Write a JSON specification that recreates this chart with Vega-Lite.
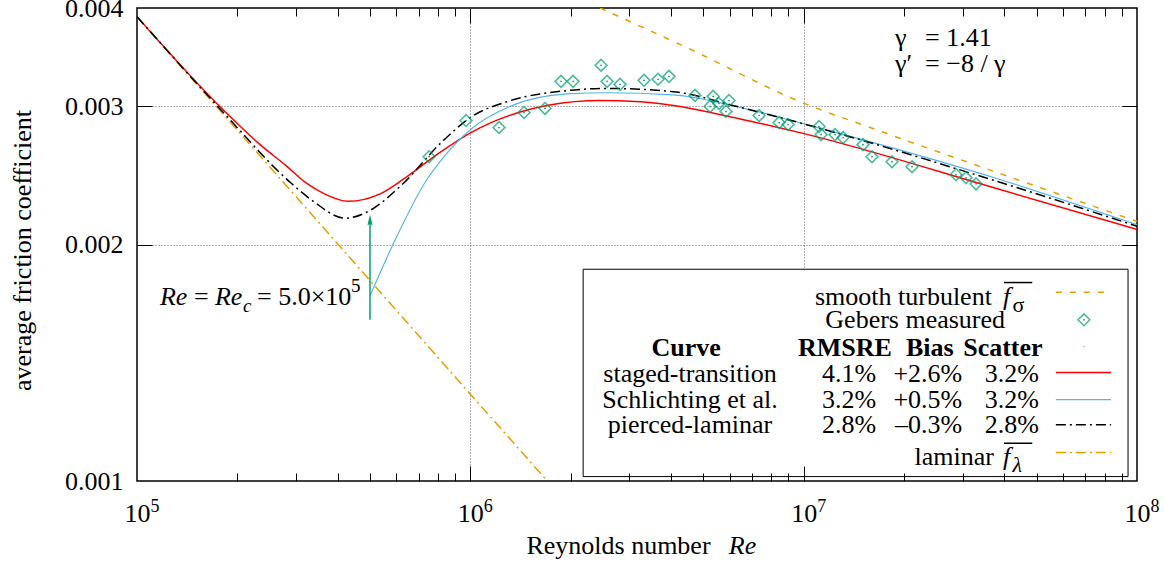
{
  "$schema": "https://vega.github.io/schema/vega-lite/v6.json",
  "width": 1000,
  "height": 473,
  "autosize": {"type": "none"},
  "padding": {"left": 137, "top": 8, "right": 27, "bottom": 90},
  "background": "white",
  "config": {
    "font": "Liberation Serif",
    "view": {"stroke": "black", "strokeWidth": 1.5},
    "axis": {"labelFont": "Liberation Serif", "titleFont": "Liberation Serif", "labelFontSize": 26, "titleFontSize": 26, "labelColor": "black", "titleColor": "black", "titleFontWeight": "normal", "domain": false, "tickColor": "black", "tickWidth": 1, "gridColor": "#666", "gridDash": [1, 2], "gridWidth": 1, "labelFlush": false, "labelOverlap": false},
    "text": {"font": "Liberation Serif", "fontSize": 26, "color": "black"}
  },
  "datasets": {
    "curves": [
      {"curve": "laminar", "Re": 100000, "f": 0.0039},
      {"curve": "laminar", "Re": 1700000, "f": 0.001},
      {"curve": "turbulent", "Re": 2450000, "f": 0.004},
      {"curve": "turbulent", "Re": 4470000, "f": 0.00356},
      {"curve": "turbulent", "Re": 9750000, "f": 0.00304},
      {"curve": "turbulent", "Re": 16900000, "f": 0.00279},
      {"curve": "turbulent", "Re": 37000000, "f": 0.00248},
      {"curve": "turbulent", "Re": 100000000, "f": 0.00214},
      {"curve": "staged", "Re": 100000, "f": 0.0039},
      {"curve": "staged", "Re": 181000, "f": 0.00297},
      {"curve": "staged", "Re": 234000, "f": 0.00268},
      {"curve": "staged", "Re": 280000, "f": 0.00252},
      {"curve": "staged", "Re": 320000, "f": 0.0024},
      {"curve": "staged", "Re": 365000, "f": 0.00232},
      {"curve": "staged", "Re": 430000, "f": 0.00227},
      {"curve": "staged", "Re": 536000, "f": 0.00232},
      {"curve": "staged", "Re": 628000, "f": 0.00242},
      {"curve": "staged", "Re": 811000, "f": 0.00262},
      {"curve": "staged", "Re": 1010000, "f": 0.00278},
      {"curve": "staged", "Re": 1730000, "f": 0.00301},
      {"curve": "staged", "Re": 2450000, "f": 0.00305},
      {"curve": "staged", "Re": 3230000, "f": 0.00304},
      {"curve": "staged", "Re": 6440000, "f": 0.00289},
      {"curve": "staged", "Re": 9950000, "f": 0.00277},
      {"curve": "staged", "Re": 38800000, "f": 0.00235},
      {"curve": "staged", "Re": 100000000, "f": 0.00209},
      {"curve": "schlichting", "Re": 500000, "f": 0.00172},
      {"curve": "schlichting", "Re": 586000, "f": 0.002},
      {"curve": "schlichting", "Re": 741000, "f": 0.00242},
      {"curve": "schlichting", "Re": 811000, "f": 0.00255},
      {"curve": "schlichting", "Re": 1010000, "f": 0.00281},
      {"curve": "schlichting", "Re": 1320000, "f": 0.003},
      {"curve": "schlichting", "Re": 1950000, "f": 0.00311},
      {"curve": "schlichting", "Re": 2570000, "f": 0.00312},
      {"curve": "schlichting", "Re": 4060000, "f": 0.0031},
      {"curve": "schlichting", "Re": 6440000, "f": 0.00299},
      {"curve": "schlichting", "Re": 9950000, "f": 0.00285},
      {"curve": "schlichting", "Re": 38800000, "f": 0.00242},
      {"curve": "schlichting", "Re": 100000000, "f": 0.00212},
      {"curve": "pierced", "Re": 100000, "f": 0.0039},
      {"curve": "pierced", "Re": 181000, "f": 0.00295},
      {"curve": "pierced", "Re": 288000, "f": 0.0024},
      {"curve": "pierced", "Re": 338000, "f": 0.00227},
      {"curve": "pierced", "Re": 421000, "f": 0.00216},
      {"curve": "pierced", "Re": 500000, "f": 0.00221},
      {"curve": "pierced", "Re": 615000, "f": 0.00237},
      {"curve": "pierced", "Re": 828000, "f": 0.00271},
      {"curve": "pierced", "Re": 1010000, "f": 0.00291},
      {"curve": "pierced", "Re": 1290000, "f": 0.00304},
      {"curve": "pierced", "Re": 1950000, "f": 0.00314},
      {"curve": "pierced", "Re": 2570000, "f": 0.00316},
      {"curve": "pierced", "Re": 4060000, "f": 0.00313},
      {"curve": "pierced", "Re": 6440000, "f": 0.00299},
      {"curve": "pierced", "Re": 9950000, "f": 0.00285},
      {"curve": "pierced", "Re": 38800000, "f": 0.0024},
      {"curve": "pierced", "Re": 100000000, "f": 0.00211}
    ],
    "gebers": [
      {"Re": 752000, "f": 0.002587}, {"Re": 971000, "f": 0.002876}, {"Re": 1219000, "f": 0.002818},
      {"Re": 1449000, "f": 0.002945}, {"Re": 1675000, "f": 0.00298}, {"Re": 1871000, "f": 0.003226},
      {"Re": 2033000, "f": 0.003226}, {"Re": 2467000, "f": 0.003382}, {"Re": 2571000, "f": 0.003226},
      {"Re": 2812000, "f": 0.003198}, {"Re": 3320000, "f": 0.003236}, {"Re": 3657000, "f": 0.003246},
      {"Re": 3945000, "f": 0.003274}, {"Re": 4720000, "f": 0.003096}, {"Re": 5350000, "f": 0.003087},
      {"Re": 5240000, "f": 0.002998}, {"Re": 5570000, "f": 0.003024}, {"Re": 5970000, "f": 0.00305},
      {"Re": 5850000, "f": 0.002954}, {"Re": 7350000, "f": 0.002919}, {"Re": 8440000, "f": 0.002859},
      {"Re": 8980000, "f": 0.002843}, {"Re": 11120000, "f": 0.002826}, {"Re": 11280000, "f": 0.00276},
      {"Re": 12420000, "f": 0.00276}, {"Re": 13130000, "f": 0.002736}, {"Re": 15070000, "f": 0.00268},
      {"Re": 16030000, "f": 0.002587}, {"Re": 18410000, "f": 0.002549}, {"Re": 21140000, "f": 0.002512},
      {"Re": 28640000, "f": 0.002454}, {"Re": 30700000, "f": 0.002432}, {"Re": 32900000, "f": 0.002389}
    ],
    "stats": [
      {"curve": "staged-transition", "RMSRE": "4.1%", "Bias": "+2.6%", "Scatter": "3.2%"},
      {"curve": "Schlichting et al.", "RMSRE": "3.2%", "Bias": "+0.5%", "Scatter": "3.2%"},
      {"curve": "pierced-laminar", "RMSRE": "2.8%", "Bias": "–0.3%", "Scatter": "2.8%"}
    ]
  },
  "resolve": {"axis": {"x": "independent", "y": "independent"}},
  "layer": [
    {
      "data": {"name": "curves"},
      "transform": [{"filter": "datum.curve === 'laminar'"}],
      "mark": {"type": "line", "color": "#e69f00", "strokeWidth": 1.5, "strokeDash": [10, 4, 2, 4], "clip": true},
      "encoding": {
        "x": {"field": "Re", "type": "quantitative", "scale": {"type": "log", "domain": [100000, 100000000], "nice": false},
              "axis": {"orient": "bottom", "values": [100000, 1000000, 10000000, 100000000], "labelExpr": "'10'", "ticks": false, "grid": false, "labelPadding": 19, "title": "Reynolds number", "titleX": 481, "titleY": 72, "titleBaseline": "alphabetic", "titleAlign": "center"}},
        "y": {"field": "f", "type": "quantitative", "scale": {"type": "log", "domain": [0.001, 0.004], "nice": false},
              "axis": {"orient": "left", "values": [0.001, 0.002, 0.003, 0.004], "format": ".3f", "ticks": false, "grid": false, "labelPadding": 14, "title": "average friction coefficient", "titleX": -115, "titleY": 242, "titleBaseline": "middle", "titleAlign": "center", "titleAngle": -90}}
      }
    },
    {
      "data": {"name": "curves"},
      "transform": [{"filter": "datum.curve === 'turbulent'"}],
      "mark": {"type": "line", "color": "#e69f00", "strokeWidth": 1.5, "strokeDash": [6, 8], "interpolate": "monotone", "clip": true},
      "encoding": {
        "x": {"field": "Re", "type": "quantitative", "scale": {"type": "log", "domain": [100000, 100000000], "nice": false},
              "axis": {"orient": "bottom", "values": [100000, 1000000, 10000000, 100000000], "labelExpr": "'' + round(log(datum.value) / LN10)", "labelFontSize": 18, "labelAlign": "left", "labelOffset": 13, "labelPadding": 16, "ticks": false, "grid": false, "title": "Re", "titleFontStyle": "italic", "titleX": 605, "titleY": 72, "titleBaseline": "alphabetic", "titleAlign": "center"}},
        "y": {"field": "f", "type": "quantitative", "scale": {"type": "log", "domain": [0.001, 0.004], "nice": false},
              "axis": {"orient": "left", "values": [0.002, 0.003], "labels": false, "ticks": false, "grid": true, "title": null}}
      }
    },
    {
      "data": {"name": "curves"},
      "transform": [{"filter": "datum.curve === 'staged'"}],
      "mark": {"type": "line", "color": "#ff0000", "strokeWidth": 1.5, "interpolate": "monotone", "clip": true},
      "encoding": {
        "x": {"field": "Re", "type": "quantitative", "scale": {"type": "log", "domain": [100000, 100000000], "nice": false},
              "axis": {"orient": "bottom", "values": [1000000, 10000000], "labels": false, "ticks": false, "grid": true, "title": null}},
        "y": {"field": "f", "type": "quantitative", "scale": {"type": "log", "domain": [0.001, 0.004], "nice": false},
              "axis": {"orient": "left", "values": [0.002, 0.003], "labels": false, "ticks": true, "tickSize": -15, "grid": false, "title": null, "zindex": 1}}
      }
    },
    {
      "data": {"name": "curves"},
      "transform": [{"filter": "datum.curve === 'schlichting'"}],
      "mark": {"type": "line", "color": "#56b4e9", "strokeWidth": 1.2, "interpolate": "monotone", "clip": true},
      "encoding": {
        "x": {"field": "Re", "type": "quantitative", "scale": {"type": "log", "domain": [100000, 100000000], "nice": false},
              "axis": {"orient": "bottom", "values": [1000000, 10000000], "labels": false, "ticks": true, "tickSize": -15, "grid": false, "title": null, "zindex": 1}},
        "y": {"field": "f", "type": "quantitative", "scale": {"type": "log", "domain": [0.001, 0.004], "nice": false},
              "axis": {"orient": "right", "values": [0.002, 0.003], "labels": false, "ticks": true, "tickSize": -15, "grid": false, "title": null, "zindex": 1}}
      }
    },
    {
      "data": {"name": "curves"},
      "transform": [{"filter": "datum.curve === 'pierced'"}],
      "mark": {"type": "line", "color": "black", "strokeWidth": 1.5, "strokeDash": [10, 4, 2, 4], "interpolate": "monotone", "clip": true},
      "encoding": {
        "x": {"field": "Re", "type": "quantitative", "scale": {"type": "log", "domain": [100000, 100000000], "nice": false},
              "axis": {"orient": "bottom", "values": [200000, 300000, 400000, 500000, 600000, 700000, 800000, 900000, 2000000, 3000000, 4000000, 5000000, 6000000, 7000000, 8000000, 9000000, 20000000, 30000000, 40000000, 50000000, 60000000, 70000000, 80000000, 90000000], "labels": false, "ticks": true, "tickSize": -8, "grid": false, "title": null, "zindex": 1}},
        "y": {"field": "f", "type": "quantitative", "scale": {"type": "log", "domain": [0.001, 0.004], "nice": false}, "axis": null}
      }
    },
    {
      "data": {"name": "gebers"},
      "mark": {"type": "point", "shape": "diamond", "size": 140, "strokeWidth": 1.6, "color": "#009e73", "filled": false},
      "encoding": {
        "x": {"field": "Re", "type": "quantitative", "scale": {"type": "log", "domain": [100000, 100000000], "nice": false},
              "axis": {"orient": "top", "values": [1000000, 10000000], "labels": false, "ticks": true, "tickSize": -15, "grid": false, "title": null, "zindex": 1}},
        "y": {"field": "f", "type": "quantitative", "scale": {"type": "log", "domain": [0.001, 0.004], "nice": false}, "axis": null}
      }
    },
    {
      "data": {"name": "gebers"},
      "mark": {"type": "point", "shape": "circle", "size": 3, "filled": true, "color": "#009e73", "opacity": 1},
      "encoding": {
        "x": {"field": "Re", "type": "quantitative", "scale": {"type": "log", "domain": [100000, 100000000], "nice": false},
              "axis": {"orient": "top", "values": [200000, 300000, 400000, 500000, 600000, 700000, 800000, 900000, 2000000, 3000000, 4000000, 5000000, 6000000, 7000000, 8000000, 9000000, 20000000, 30000000, 40000000, 50000000, 60000000, 70000000, 80000000, 90000000], "labels": false, "ticks": true, "tickSize": -8, "grid": false, "title": null, "zindex": 1}},
        "y": {"field": "f", "type": "quantitative", "scale": {"type": "log", "domain": [0.001, 0.004], "nice": false}, "axis": null}
      }
    },
    {
      "data": {"values": [{"k": "arrow"}]},
      "mark": {"type": "rule", "color": "#009e73", "strokeWidth": 1.5},
      "encoding": {"x": {"datum": 500000, "axis": null}, "y": {"datum": 0.001604, "axis": null}, "y2": {"datum": 0.002119}}
    },
    {
      "data": {"values": [{"k": "arrowhead"}]},
      "mark": {"type": "point", "shape": "M0,-1L-0.5,1L0.5,1Z", "size": 100, "filled": true, "color": "#009e73", "opacity": 1},
      "encoding": {"x": {"datum": 500000, "axis": null}, "y": {"datum": 0.00215, "axis": null}}
    },
    {
      "data": {"values": [{"t": "Re"}]},
      "mark": {"type": "text", "align": "left", "baseline": "middle", "fontStyle": "italic"},
      "encoding": {"x": {"datum": 117200, "axis": null}, "y": {"datum": 0.001717, "axis": null}, "text": {"field": "t"}}
    },
    {
      "data": {"values": [{"t": "="}]},
      "mark": {"type": "text", "align": "left", "baseline": "middle", "dx": 34},
      "encoding": {"x": {"datum": 117200, "axis": null}, "y": {"datum": 0.001717, "axis": null}, "text": {"field": "t"}}
    },
    {
      "data": {"values": [{"t": "Re"}]},
      "mark": {"type": "text", "align": "left", "baseline": "middle", "fontStyle": "italic", "dx": 55},
      "encoding": {"x": {"datum": 117200, "axis": null}, "y": {"datum": 0.001717, "axis": null}, "text": {"field": "t"}}
    },
    {
      "data": {"values": [{"t": "c"}]},
      "mark": {"type": "text", "align": "left", "baseline": "middle", "fontStyle": "italic", "fontSize": 19, "dx": 83, "dy": 9},
      "encoding": {"x": {"datum": 117200, "axis": null}, "y": {"datum": 0.001717, "axis": null}, "text": {"field": "t"}}
    },
    {
      "data": {"values": [{"t": "= 5.0×10"}]},
      "mark": {"type": "text", "align": "left", "baseline": "middle", "dx": 97},
      "encoding": {"x": {"datum": 117200, "axis": null}, "y": {"datum": 0.001717, "axis": null}, "text": {"field": "t"}}
    },
    {
      "data": {"values": [{"t": "5"}]},
      "mark": {"type": "text", "align": "left", "baseline": "middle", "fontSize": 19, "dx": 191, "dy": -11},
      "encoding": {"x": {"datum": 117200, "axis": null}, "y": {"datum": 0.001717, "axis": null}, "text": {"field": "t"}}
    },
    {
      "data": {"values": [{"t": "γ"}]},
      "mark": {"type": "text", "align": "left", "baseline": "middle"},
      "encoding": {"x": {"datum": 18800000, "axis": null}, "y": {"datum": 0.00366, "axis": null}, "text": {"field": "t"}}
    },
    {
      "data": {"values": [{"t": "= 1.41"}]},
      "mark": {"type": "text", "align": "left", "baseline": "middle", "dx": 30},
      "encoding": {"x": {"datum": 18800000, "axis": null}, "y": {"datum": 0.00366, "axis": null}, "text": {"field": "t"}}
    },
    {
      "data": {"values": [{"t": "γ′"}]},
      "mark": {"type": "text", "align": "left", "baseline": "middle"},
      "encoding": {"x": {"datum": 18800000, "axis": null}, "y": {"datum": 0.003395, "axis": null}, "text": {"field": "t"}}
    },
    {
      "data": {"values": [{"t": "= −8 / γ"}]},
      "mark": {"type": "text", "align": "left", "baseline": "middle", "dx": 30},
      "encoding": {"x": {"datum": 18800000, "axis": null}, "y": {"datum": 0.003395, "axis": null}, "text": {"field": "t"}}
    },
    {
      "data": {"values": [{"k": "key box"}]},
      "mark": {"type": "rect", "fill": "white", "stroke": "black", "strokeWidth": 1},
      "encoding": {"x": {"datum": 2180000, "axis": null}, "x2": {"datum": 94000000}, "y": {"datum": 0.00186, "axis": null}, "y2": {"datum": 0.001013}}
    },
    {
      "data": {"values": [{"t": "smooth turbulent"}]},
      "mark": {"type": "text", "align": "right", "baseline": "middle"},
      "encoding": {"x": {"datum": 36700000, "axis": null}, "y": {"datum": 0.001717, "axis": null}, "text": {"field": "t"}}
    },
    {
      "data": {"values": [{"t": "f"}]},
      "mark": {"type": "text", "align": "left", "baseline": "middle", "fontStyle": "italic"},
      "encoding": {"x": {"datum": 39600000, "axis": null}, "y": {"datum": 0.001717, "axis": null}, "text": {"field": "t"}}
    },
    {
      "data": {"values": [{"t": "σ"}]},
      "mark": {"type": "text", "align": "left", "baseline": "middle", "fontSize": 22, "dy": 8},
      "encoding": {"x": {"datum": 42300000, "axis": null}, "y": {"datum": 0.001717, "axis": null}, "text": {"field": "t"}}
    },
    {
      "data": {"values": [{"k": "overbar sigma"}]},
      "mark": {"type": "rule", "color": "black", "strokeWidth": 1.5},
      "encoding": {"x": {"datum": 39900000, "axis": null}, "x2": {"datum": 48500000}, "y": {"datum": 0.001789, "axis": null}}
    },
    {
      "data": {"values": [{"t": "Gebers measured"}]},
      "mark": {"type": "text", "align": "right", "baseline": "middle"},
      "encoding": {"x": {"datum": 40200000, "axis": null}, "y": {"datum": 0.001604, "axis": null}, "text": {"field": "t"}}
    },
    {
      "data": {"values": [{"a": "Curve", "b": "RMSRE", "c": "Bias", "d": "Scatter"}]},
      "encoding": {"y": {"datum": 0.001476, "axis": null}},
      "layer": [
        {"mark": {"type": "text", "align": "center", "baseline": "middle", "fontWeight": "bold"}, "encoding": {"x": {"datum": 4440000, "axis": null}, "text": {"field": "a"}}},
        {"mark": {"type": "text", "align": "center", "baseline": "middle", "fontWeight": "bold"}, "encoding": {"x": {"datum": 13300000, "axis": null}, "text": {"field": "b"}}},
        {"mark": {"type": "text", "align": "center", "baseline": "middle", "fontWeight": "bold"}, "encoding": {"x": {"datum": 23900000, "axis": null}, "text": {"field": "c"}}},
        {"mark": {"type": "text", "align": "center", "baseline": "middle", "fontWeight": "bold"}, "encoding": {"x": {"datum": 39600000, "axis": null}, "text": {"field": "d"}}}
      ]
    },
    {
      "data": {"name": "stats"},
      "transform": [{"filter": "datum.curve === 'staged-transition'"}],
      "encoding": {"y": {"datum": 0.001369, "axis": null}},
      "layer": [
        {"mark": {"type": "text", "align": "center", "baseline": "middle"}, "encoding": {"x": {"datum": 4560000, "axis": null}, "text": {"field": "curve"}}},
        {"mark": {"type": "text", "align": "right", "baseline": "middle"}, "encoding": {"x": {"datum": 16500000, "axis": null}, "text": {"field": "RMSRE"}}},
        {"mark": {"type": "text", "align": "right", "baseline": "middle"}, "encoding": {"x": {"datum": 29900000, "axis": null}, "text": {"field": "Bias"}}},
        {"mark": {"type": "text", "align": "right", "baseline": "middle"}, "encoding": {"x": {"datum": 50800000, "axis": null}, "text": {"field": "Scatter"}}}
      ]
    },
    {
      "data": {"name": "stats"},
      "transform": [{"filter": "datum.curve === 'Schlichting et al.'"}],
      "encoding": {"y": {"datum": 0.001269, "axis": null}},
      "layer": [
        {"mark": {"type": "text", "align": "center", "baseline": "middle"}, "encoding": {"x": {"datum": 4560000, "axis": null}, "text": {"field": "curve"}}},
        {"mark": {"type": "text", "align": "right", "baseline": "middle"}, "encoding": {"x": {"datum": 16500000, "axis": null}, "text": {"field": "RMSRE"}}},
        {"mark": {"type": "text", "align": "right", "baseline": "middle"}, "encoding": {"x": {"datum": 29900000, "axis": null}, "text": {"field": "Bias"}}},
        {"mark": {"type": "text", "align": "right", "baseline": "middle"}, "encoding": {"x": {"datum": 50800000, "axis": null}, "text": {"field": "Scatter"}}}
      ]
    },
    {
      "data": {"name": "stats"},
      "transform": [{"filter": "datum.curve === 'pierced-laminar'"}],
      "encoding": {"y": {"datum": 0.001179, "axis": null}},
      "layer": [
        {"mark": {"type": "text", "align": "center", "baseline": "middle"}, "encoding": {"x": {"datum": 4560000, "axis": null}, "text": {"field": "curve"}}},
        {"mark": {"type": "text", "align": "right", "baseline": "middle"}, "encoding": {"x": {"datum": 16500000, "axis": null}, "text": {"field": "RMSRE"}}},
        {"mark": {"type": "text", "align": "right", "baseline": "middle"}, "encoding": {"x": {"datum": 29900000, "axis": null}, "text": {"field": "Bias"}}},
        {"mark": {"type": "text", "align": "right", "baseline": "middle"}, "encoding": {"x": {"datum": 50800000, "axis": null}, "text": {"field": "Scatter"}}}
      ]
    },
    {
      "data": {"values": [{"t": "laminar"}]},
      "mark": {"type": "text", "align": "right", "baseline": "middle"},
      "encoding": {"x": {"datum": 37200000, "axis": null}, "y": {"datum": 0.001074, "axis": null}, "text": {"field": "t"}}
    },
    {
      "data": {"values": [{"t": "f"}]},
      "mark": {"type": "text", "align": "left", "baseline": "middle", "fontStyle": "italic"},
      "encoding": {"x": {"datum": 39600000, "axis": null}, "y": {"datum": 0.001074, "axis": null}, "text": {"field": "t"}}
    },
    {
      "data": {"values": [{"t": "λ"}]},
      "mark": {"type": "text", "align": "left", "baseline": "middle", "fontSize": 22, "fontStyle": "italic", "dy": 8},
      "encoding": {"x": {"datum": 42300000, "axis": null}, "y": {"datum": 0.001074, "axis": null}, "text": {"field": "t"}}
    },
    {
      "data": {"values": [{"k": "overbar lambda"}]},
      "mark": {"type": "rule", "color": "black", "strokeWidth": 1.5},
      "encoding": {"x": {"datum": 39900000, "axis": null}, "x2": {"datum": 48500000}, "y": {"datum": 0.001117, "axis": null}}
    },
    {
      "data": {"values": [{"k": "key turbulent"}]},
      "mark": {"type": "rule", "color": "#e69f00", "strokeWidth": 1.5, "strokeDash": [6, 8]},
      "encoding": {"x": {"datum": 57100000, "axis": null}, "x2": {"datum": 83600000}, "y": {"datum": 0.001739, "axis": null}}
    },
    {
      "data": {"values": [{"k": "key gebers"}]},
      "mark": {"type": "point", "shape": "diamond", "size": 140, "strokeWidth": 1.6, "color": "#009e73", "filled": false},
      "encoding": {"x": {"datum": 69300000, "axis": null}, "y": {"datum": 0.001604, "axis": null}}
    },
    {
      "data": {"values": [{"k": "key gebers dot"}]},
      "mark": {"type": "point", "shape": "circle", "size": 3, "filled": true, "color": "#009e73", "opacity": 1},
      "encoding": {"x": {"datum": 69300000, "axis": null}, "y": {"datum": 0.001604, "axis": null}}
    },
    {
      "data": {"values": [{"k": "key header dot"}]},
      "mark": {"type": "point", "shape": "circle", "size": 2, "filled": true, "color": "#56b4e9", "opacity": 1},
      "encoding": {"x": {"datum": 69300000, "axis": null}, "y": {"datum": 0.001483, "axis": null}}
    },
    {
      "data": {"values": [{"k": "key staged"}]},
      "mark": {"type": "rule", "color": "#ff0000", "strokeWidth": 1.5},
      "encoding": {"x": {"datum": 57100000, "axis": null}, "x2": {"datum": 83600000}, "y": {"datum": 0.001374, "axis": null}}
    },
    {
      "data": {"values": [{"k": "key schlichting"}]},
      "mark": {"type": "rule", "color": "#56b4e9", "strokeWidth": 1.2},
      "encoding": {"x": {"datum": 57100000, "axis": null}, "x2": {"datum": 83600000}, "y": {"datum": 0.001269, "axis": null}}
    },
    {
      "data": {"values": [{"k": "key pierced"}]},
      "mark": {"type": "rule", "color": "black", "strokeWidth": 1.5, "strokeDash": [10, 4, 2, 4]},
      "encoding": {"x": {"datum": 57100000, "axis": null}, "x2": {"datum": 83600000}, "y": {"datum": 0.001179, "axis": null}}
    },
    {
      "data": {"values": [{"k": "key laminar"}]},
      "mark": {"type": "rule", "color": "#e69f00", "strokeWidth": 1.5, "strokeDash": [10, 4, 2, 4]},
      "encoding": {"x": {"datum": 57100000, "axis": null}, "x2": {"datum": 83600000}, "y": {"datum": 0.001087, "axis": null}}
    }
  ]
}
